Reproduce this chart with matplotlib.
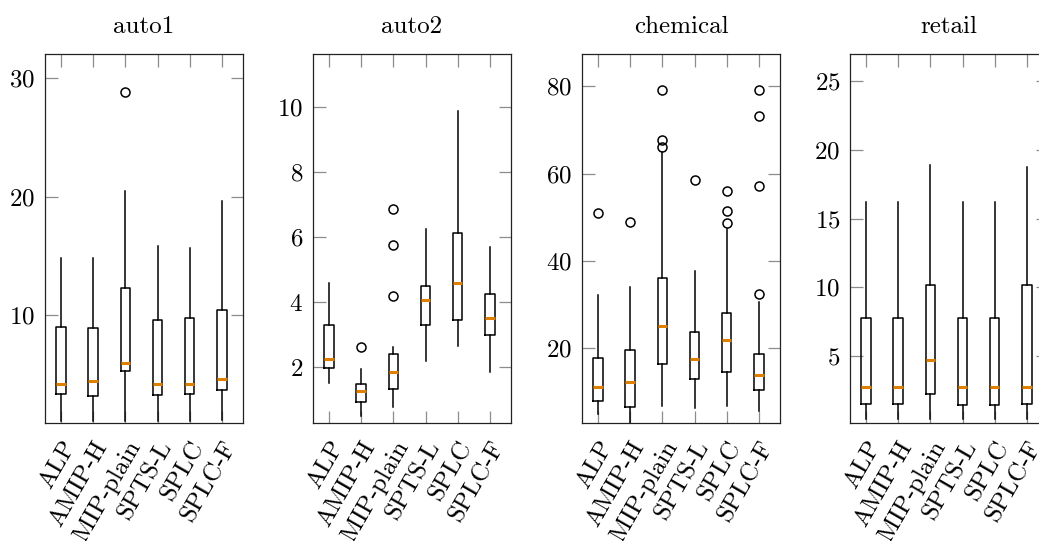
"""Box plots of per-instance times for four datasets, pgfplots look-alike."""
import matplotlib
matplotlib.use("Agg")
import matplotlib.pyplot as plt
from matplotlib.transforms import ScaledTranslation

plt.rcParams["font.family"] = ["cmr10", "DejaVu Serif"]
plt.rcParams["axes.formatter.use_mathtext"] = True
plt.rcParams["mathtext.fontset"] = "cm"

METHODS = ["ALP", "AMIP-H", "AMIP-plain", "SPTS-L", "SPLC", "SPLC-F"]
DATASETS = ["auto1", "auto2", "chemical", "retail"]

# rows follow METHODS; columns are whisker low, q1, median, q3, whisker high
auto1_stats = [
    [1.1, 3.33, 4.2, 9.02, 14.8],
    [1.1, 3.19, 4.43, 8.93, 14.8],
    [1.1, 5.3, 5.98, 12.31, 20.5],
    [1.1, 3.25, 4.2, 9.63, 15.8],
    [1.1, 3.31, 4.2, 9.8, 15.65],
    [1.15, 3.7, 4.65, 10.42, 19.6],
]
auto1_fliers = [[], [], [28.8], [], [], []]

auto2_stats = [
    [1.51, 1.96, 2.26, 3.3, 4.59],
    [0.5, 0.93, 1.27, 1.49, 1.95],
    [0.76, 1.32, 1.85, 2.4, 2.62],
    [2.19, 3.28, 4.07, 4.49, 6.25],
    [2.64, 3.45, 4.58, 6.11, 9.87],
    [1.84, 2.99, 3.5, 4.26, 5.68],
]
auto2_fliers = [[], [2.62], [6.86, 5.76, 4.19], [], [], []]

chemical_stats = [
    [5.0, 7.9, 11.1, 17.8, 32.2],
    [2.0, 6.45, 12.3, 19.7, 34.0],
    [6.9, 16.5, 25.0, 36.0, 64.9],
    [6.3, 13.0, 17.5, 23.7, 37.8],
    [6.8, 14.6, 22.0, 28.2, 47.4],
    [5.6, 10.35, 14.0, 18.8, 30.5],
]
chemical_fliers = [
    [50.9],
    [49.0],
    [79.2, 67.7, 66.2],
    [58.6],
    [56.0, 51.4, 48.7],
    [79.2, 73.3, 57.1, 32.5],
]

retail_stats = [
    [0.38, 1.45, 2.76, 7.77, 16.23],
    [0.38, 1.5, 2.76, 7.77, 16.23],
    [0.38, 2.23, 4.69, 10.13, 18.9],
    [0.38, 1.4, 2.76, 7.77, 16.23],
    [0.38, 1.4, 2.76, 7.77, 16.23],
    [0.38, 1.45, 2.76, 10.13, 18.73],
]
retail_fliers = [[], [], [], [], [], []]

STATS = [auto1_stats, auto2_stats, chemical_stats, retail_stats]
FLIERS = [auto1_fliers, auto2_fliers, chemical_fliers, retail_fliers]
YLIMS = [(0.9, 32.05), (0.28, 11.63), (2.9, 87.4), (0.1, 27.0)]
YTICKS = [[10, 20, 30], [2, 4, 6, 8, 10], [20, 40, 60, 80], [5, 10, 15, 20, 25]]

W, H = 1039, 541
LEFTS = [45, 313, 582, 850]
AX_W, AX_TOP, AX_BOT = 198, 54, 423

MEDIAN_COLOR = "#e08000"
TICK_COLOR = "#8c8c8c"
FS = 18


def main():
    fig = plt.figure(figsize=(W / 100, H / 100), dpi=100)
    shift = ScaledTranslation(10 / 100, 0, fig.dpi_scale_trans)

    for i, name in enumerate(DATASETS):
        ax = fig.add_axes([LEFTS[i] / W, (H - AX_BOT) / H,
                           AX_W / W, (AX_BOT - AX_TOP) / H])
        bxp_stats = []
        for m, row, fl in zip(METHODS, STATS[i], FLIERS[i]):
            lo, q1, med, q3, hi = row
            bxp_stats.append(dict(label=m, whislo=lo, q1=q1, med=med,
                                  q3=q3, whishi=hi, fliers=fl))
        ax.bxp(bxp_stats, positions=range(1, len(METHODS) + 1),
               widths=0.3, showcaps=False,
               boxprops=dict(color="black", linewidth=1.1),
               whiskerprops=dict(color="black", linewidth=1.1),
               medianprops=dict(color=MEDIAN_COLOR, linewidth=2.2),
               flierprops=dict(marker="o", markersize=6.5,
                               markerfacecolor="none",
                               markeredgecolor="black",
                               markeredgewidth=1.1))

        ax.set_xlim(0.5, 6.66)
        ax.set_ylim(*YLIMS[i])
        ax.set_yticks(YTICKS[i])
        ax.set_xticks(range(1, len(METHODS) + 1))
        ax.set_xticklabels(METHODS, rotation=60, ha="right", va="top",
                           rotation_mode="anchor")
        for lab in ax.get_xticklabels():
            lab.set_transform(lab.get_transform() + shift)
        ax.tick_params(direction="in", length=9, width=0.9,
                       color=TICK_COLOR, top=True, right=True,
                       labelsize=FS, pad=7)
        ax.tick_params(axis="x", pad=10)
        for sp in ax.spines.values():
            sp.set_linewidth(0.9)
            sp.set_color("#222222")
        ax.set_title(name, fontsize=FS, pad=15)

    fig.savefig("out.png", dpi=100)


if __name__ == "__main__":
    main()
